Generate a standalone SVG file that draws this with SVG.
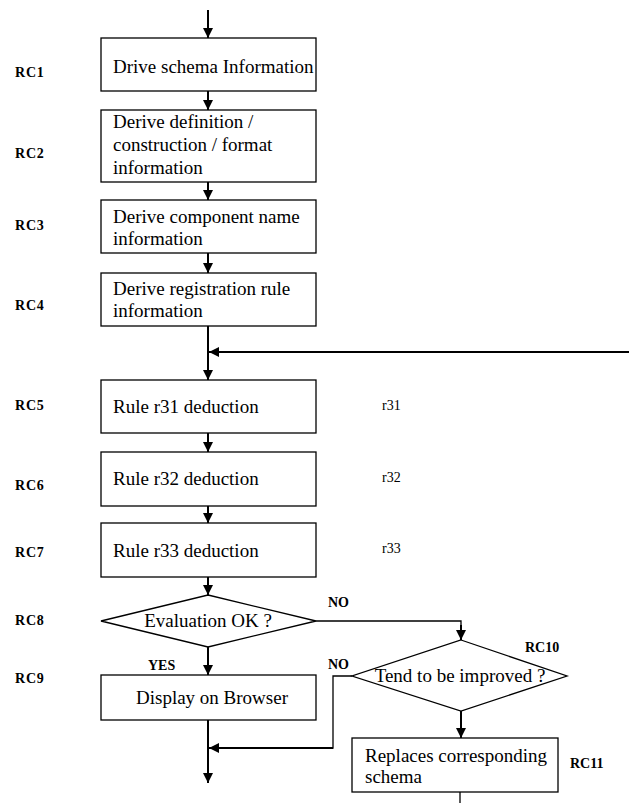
<svg xmlns="http://www.w3.org/2000/svg" width="629" height="803" viewBox="0 0 629 803">
<style>
.box{fill:#fff;stroke:#000;stroke-width:1.3}
.t{font-family:'Liberation Serif','Times New Roman','DejaVu Serif',serif;font-size:19px;fill:#000}
.lab{font-family:'Liberation Serif','Times New Roman','DejaVu Serif',serif;font-size:14px;font-weight:bold;fill:#000;letter-spacing:0.8px}
.yn{font-family:'Liberation Serif','Times New Roman','DejaVu Serif',serif;font-size:14px;font-weight:bold;fill:#000}
.r{font-family:'Liberation Serif','Times New Roman','DejaVu Serif',serif;font-size:14px;fill:#000}
.c{fill:none;stroke:#000;stroke-width:2}
.c1{fill:none;stroke:#000;stroke-width:1.3}
</style>
<defs>
<marker id="ah" viewBox="0 0 10 10" refX="10" refY="5" markerWidth="10" markerHeight="10" markerUnits="userSpaceOnUse" orient="auto">
<path d="M0,0 L10,5 L0,10 Z" fill="#000"/>
</marker>
</defs>
<g id="connectors">
<line class="c" x1="208" y1="10" x2="208" y2="38" marker-end="url(#ah)"/>
<line class="c" x1="208" y1="91" x2="208" y2="110" marker-end="url(#ah)"/>
<line class="c" x1="208" y1="182" x2="208" y2="200" marker-end="url(#ah)"/>
<line class="c" x1="208" y1="253" x2="208" y2="273" marker-end="url(#ah)"/>
<line class="c" x1="208" y1="326" x2="208" y2="380" marker-end="url(#ah)"/>
<line class="c" x1="629" y1="352" x2="209" y2="352" marker-end="url(#ah)"/>
<line class="c" x1="208" y1="433" x2="208" y2="452" marker-end="url(#ah)"/>
<line class="c" x1="208" y1="506" x2="208" y2="523" marker-end="url(#ah)"/>
<line class="c" x1="208" y1="577" x2="208" y2="595" marker-end="url(#ah)"/>
<line class="c" x1="208" y1="647" x2="208" y2="675" marker-end="url(#ah)"/>
<line class="c" x1="208" y1="720" x2="208" y2="783" marker-end="url(#ah)"/>
<polyline class="c1" points="316,621 461,621 461,632"/>
<line class="c" x1="461" y1="625" x2="461" y2="640" marker-end="url(#ah)"/>
<polyline class="c1" points="352,676 333,676 333,748 300,748"/>
<line class="c" x1="333" y1="748" x2="209" y2="748" marker-end="url(#ah)"/>
<line class="c" x1="461" y1="711" x2="461" y2="738" marker-end="url(#ah)"/>
<line class="c1" x1="460" y1="792" x2="460" y2="803"/>
</g>
<g id="rc1">
<rect class="box" x="101" y="38" width="215" height="53"/>
<text class="t" x="113" y="73">Drive schema Information</text>
</g>
<g id="rc2">
<rect class="box" x="101" y="110" width="215" height="72"/>
<text class="t" x="113" y="128">Derive definition /</text>
<text class="t" x="113" y="151">construction / format</text>
<text class="t" x="113" y="174">information</text>
</g>
<g id="rc3">
<rect class="box" x="101" y="200" width="215" height="53"/>
<text class="t" x="113" y="223">Derive component name</text>
<text class="t" x="113" y="245">information</text>
</g>
<g id="rc4">
<rect class="box" x="101" y="273" width="215" height="53"/>
<text class="t" x="113" y="295">Derive registration rule</text>
<text class="t" x="113" y="317">information</text>
</g>
<g id="rc5">
<rect class="box" x="101" y="380" width="215" height="53"/>
<text class="t" x="113" y="413">Rule r31 deduction</text>
</g>
<g id="rc6">
<rect class="box" x="101" y="452" width="215" height="54"/>
<text class="t" x="113" y="485">Rule r32 deduction</text>
</g>
<g id="rc7">
<rect class="box" x="101" y="523" width="215" height="54"/>
<text class="t" x="113" y="557">Rule r33 deduction</text>
</g>
<g id="rc8">
<polygon class="box" points="208,595 316,621 208,647 101,621"/>
<text class="t" x="208" y="627" text-anchor="middle">Evaluation OK ?</text>
</g>
<g id="rc9">
<rect class="box" x="101" y="675" width="215" height="45"/>
<text class="t" x="212" y="704" text-anchor="middle">Display on Browser</text>
</g>
<g id="rc10">
<polygon class="box" points="461,640 567,676 461,711 352,676"/>
<text class="t" x="460" y="682" text-anchor="middle">Tend to be improved ?</text>
</g>
<g id="rc11">
<rect class="box" x="352" y="738" width="206" height="54"/>
<text class="t" x="365" y="762">Replaces corresponding</text>
<text class="t" x="365" y="783">schema</text>
</g>
<g id="labels">
<text class="lab" x="15" y="77">RC1</text>
<text class="lab" x="15" y="158">RC2</text>
<text class="lab" x="15" y="230">RC3</text>
<text class="lab" x="15" y="310">RC4</text>
<text class="lab" x="15" y="410">RC5</text>
<text class="lab" x="15" y="490">RC6</text>
<text class="lab" x="15" y="557">RC7</text>
<text class="lab" x="15" y="625">RC8</text>
<text class="lab" x="15" y="683">RC9</text>
<text class="yn" x="525" y="652">RC10</text>
<text class="yn" x="570" y="768">RC11</text>
<text class="yn" x="328" y="607">NO</text>
<text class="yn" x="328" y="669">NO</text>
<text class="yn" x="148" y="670">YES</text>
<text class="r" x="382" y="410">r31</text>
<text class="r" x="382" y="482">r32</text>
<text class="r" x="382" y="553">r33</text>
</g>
</svg>
